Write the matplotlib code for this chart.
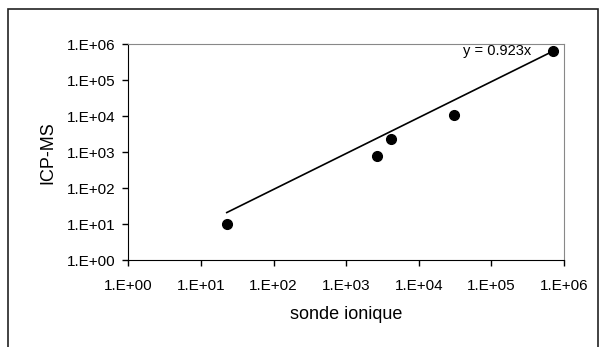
import numpy as np
import matplotlib
matplotlib.use('Agg')
import matplotlib.pyplot as plt
from matplotlib.ticker import FuncFormatter, LogLocator
from matplotlib.patches import Rectangle

plt.rcParams['font.family'] = ['Liberation Sans', 'DejaVu Sans']

# data
sonde = [22.7, 2640, 4200, 30600, 700000]
icpms = [10, 804, 2345, 11150, 650000]
slope = 0.923
eq_label = 'y = 0.923x'

tick_fmt = FuncFormatter(lambda v, p: '1.E+%02d' % int(round(np.log10(v))))

fig = plt.figure(figsize=(6.04, 3.47), dpi=100)
ax = fig.add_axes([0.2124, 0.2507, 0.7214, 0.6211])

# outer chart border (bottom edge cut off like the source image)
fig.patches.append(Rectangle((8 / 604, -0.1), 590 / 604, 1.1 - 9 / 347,
                             transform=fig.transFigure, fill=False,
                             edgecolor='#222222', linewidth=1.2))

ax.set_xscale('log')
ax.set_yscale('log')
ax.set_xlim(1, 1e6)
ax.set_ylim(1, 1e6)

x_fit = np.array([min(sonde), max(sonde)])
ax.plot(x_fit, slope * x_fit, color='black', linewidth=1.2, zorder=2)
ax.plot(sonde, icpms, 'o', color='black', markersize=7, zorder=3)

ax.text(0.924, 0.969, eq_label, transform=ax.transAxes, ha='right',
        va='center', fontsize=10.5)

ax.xaxis.set_major_locator(LogLocator(base=10, numticks=10))
ax.yaxis.set_major_locator(LogLocator(base=10, numticks=10))
ax.xaxis.set_minor_locator(plt.NullLocator())
ax.yaxis.set_minor_locator(plt.NullLocator())
ax.xaxis.set_major_formatter(tick_fmt)
ax.yaxis.set_major_formatter(tick_fmt)
ax.tick_params(axis='both', which='major', direction='out', length=4,
               width=1, labelsize=11)
ax.tick_params(axis='x', pad=10)
ax.tick_params(axis='y', pad=5)

ax.spines['top'].set_color('#888888')
ax.spines['right'].set_color('#888888')
for s in ['left', 'bottom']:
    ax.spines[s].set_color('black')

ax.set_xlabel('sonde ionique', fontsize=13, labelpad=9)
ax.set_ylabel('ICP-MS', fontsize=13, labelpad=8)

fig.savefig('out.png', dpi=100)
